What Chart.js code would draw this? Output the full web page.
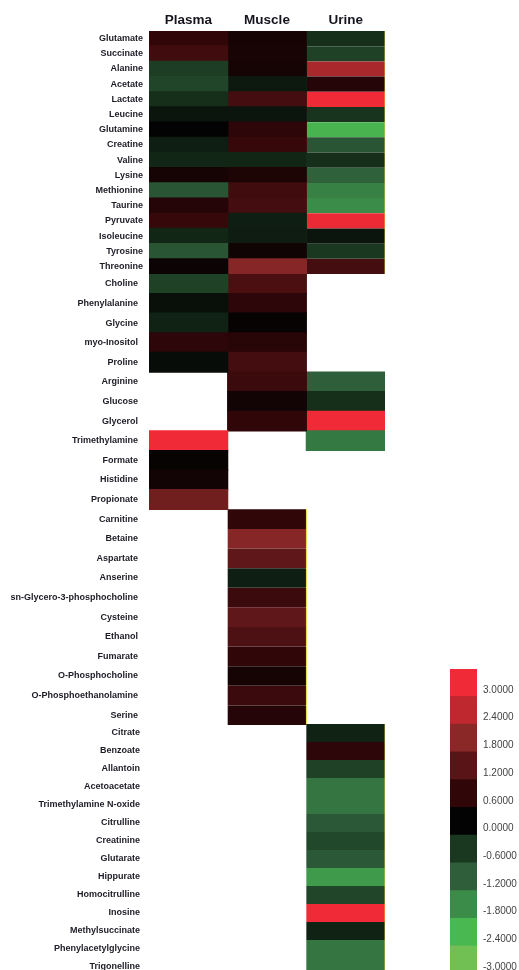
<!DOCTYPE html>
<html lang="en">
<head>
<meta charset="UTF-8">
<title>Metabolite heatmap</title>
<script src="https://cdn.jsdelivr.net/npm/chart.js@4.4.1/dist/chart.umd.min.js"></script>
<style>
    body { margin: 0; background: #fff; }
    #wrap { position: relative; width: 519px; height: 970px; overflow: hidden; }
    canvas { position: absolute; left: 0; }
</style>
</head>
<body>
<div id="wrap">
    <canvas id="block1" width="386" height="274" style="top:0"></canvas>
    <canvas id="block2" width="386" height="451" style="top:274px"></canvas>
    <canvas id="block3" width="386" height="252" style="top:724px"></canvas>
    <canvas id="colorScale" width="79" height="316" style="left:440px;top:660px"></canvas>
</div>
<script>
const columns = ['Plasma', 'Muscle', 'Urine'];

// block 1: measured in all three samples
const names1 = ['Glutamate', 'Succinate', 'Alanine', 'Acetate', 'Lactate', 'Leucine', 'Glutamine', 'Creatine',
    'Valine', 'Lysine', 'Methionine', 'Taurine', 'Pyruvate', 'Isoleucine', 'Tyrosine', 'Threonine'];
const plasma1 = [0.6, 0.85, -0.7, -0.8, -0.5, -0.2, 0, -0.3, -0.4, 0.25, -1.05, 0.45, 0.7, -0.4, -1.05, 0.12];
const muscle1 = [0.25, 0.3, 0.25, -0.25, 0.9, -0.2, 0.55, 0.7, -0.4, 0.35, 0.85, 0.9, -0.3, -0.28, 0.18, 1.75];
const urine1 = [-0.5, -0.75, 2.15, 0.45, 3.0, -0.55, -2.35, -1.05, -0.5, -1.25, -1.65, -1.8, 2.95, -0.2, -0.6, 0.9];

// block 2: plasma and/or muscle
const names2 = ['Choline', 'Phenylalanine', 'Glycine', 'myo-Inositol', 'Proline', 'Arginine', 'Glucose', 'Glycerol',
    'Trimethylamine', 'Formate', 'Histidine', 'Propionate', 'Carnitine', 'Betaine', 'Aspartate', 'Anserine',
    'sn-Glycero-3-phosphocholine', 'Cysteine', 'Ethanol', 'Fumarate', 'O-Phosphocholine', 'O-Phosphoethanolamine', 'Serine'];
const plasma2 = [-0.75, -0.15, -0.35, 0.55, -0.1, null, null, null, 3.0, 0.05, 0.2, 1.5,
    null, null, null, null, null, null, null, null, null, null, null];
const muscle2 = [1.0, 0.55, 0.05, 0.5, 0.9, 0.75, 0.2, 0.6, null, null, null, null,
    0.6, 1.75, 1.3, -0.3, 0.75, 1.3, 1.05, 0.6, 0.25, 0.75, 0.45];
const urine2 = [null, null, null, null, null, -1.2, -0.5, 3.0, -1.55, null, null, null,
    null, null, null, null, null, null, null, null, null, null, null];

// block 3: urine only
const names3 = ['Citrate', 'Benzoate', 'Allantoin', 'Acetoacetate', 'Trimethylamine N-oxide', 'Citrulline', 'Creatinine',
    'Glutarate', 'Hippurate', 'Homocitrulline', 'Inosine', 'Methylsuccinate', 'Phenylacetylglycine', 'Trigonelline'];
const urine3 = [-0.35, 0.55, -0.75, -1.5, -1.5, -1.1, -0.85, -1.1, -2.0, -0.8, 3.0, -0.35, -1.5, -1.5];

// colour key
const scaleValues = [3, 2.4, 1.8, 1.2, 0.6, 0, -0.6, -1.2, -1.8, -2.4, -3];
const scaleLabels = ['3.0000', '2.4000', '1.8000', '1.2000', '0.6000', '0.0000',
    '-0.6000', '-1.2000', '-1.8000', '-2.4000', '-3.0000'];

const stopColors = [
    [240, 42, 54], [190, 40, 46], [138, 40, 40], [88, 20, 22], [48, 6, 8], [3, 3, 3],
    [26, 56, 32], [46, 94, 58], [58, 140, 72], [74, 184, 80], [112, 192, 84]
];

function heatColor(v) {
    if (v == null) return 'rgba(0,0,0,0)';
    v = Math.max(-3, Math.min(3, v));
    let pos = (3 - v) / 0.6;
    let i = Math.min(Math.floor(pos), stopColors.length - 2);
    let t = pos - i;
    let a = stopColors[i], b = stopColors[i + 1];
    let c = a.map((x, k) => Math.round(x + (b[k] - x) * t));
    return 'rgb(' + c.join(',') + ')';
}

// kill the extra room chart.js keeps for half a tick label
function noLabelPadding(axis) {
    axis.paddingTop = 0;
    axis.paddingBottom = 0;
}

const labelFont = { family: 'Liberation Sans, Arial, sans-serif', size: 9, weight: 'bold' };

// edge: which column gets the thin yellow edge line, from which row on
function makeBlock(id, names, values, showHeader, labelPad, edge) {
    const datasets = columns.map((col, ci) => ({
        label: col,
        data: names.map((n, ri) => values[ci] && values[ci][ri] != null ? [ci, ci + 1] : null),
        backgroundColor: ctx => heatColor(values[ci] ? values[ci][ctx.dataIndex] : null),
        borderColor: '#e6d640',
        borderSkipped: false,
        borderWidth: ctx => {
            let r = edge && edge.col === ci && ctx.dataIndex >= edge.from ? 1 : 0;
            return { top: 0, bottom: 0, left: 0, right: r };
        },
        inflateAmount: 0.6,
        barPercentage: 1,
        categoryPercentage: 1,
        grouped: false
    }));
    return new Chart(document.getElementById(id), {
        type: 'bar',
        data: { labels: names, datasets: datasets },
        options: {
            indexAxis: 'y',
            responsive: false,
            animation: false,
            devicePixelRatio: 1,
            layout: { padding: { left: 0, top: 0, bottom: 0, right: 1 } },
            plugins: { legend: { display: false }, tooltip: { enabled: false } },
            scales: {
                x: {
                    type: 'linear', min: 0, max: 3, position: 'top', display: showHeader,
                    grid: { display: false, drawTicks: false }, border: { display: false },
                    afterBuildTicks: axis => { axis.ticks = columns.map((c, i) => ({ value: i + 0.5 })); },
                    afterFit: axis => { axis.height = showHeader ? 31 : 0; axis.paddingLeft = 0; axis.paddingRight = 0; },
                    ticks: {
                        callback: (v, i) => columns[i],
                        padding: 3, maxRotation: 0, autoSkip: false, color: '#151520',
                        font: { family: 'Liberation Sans, Arial, sans-serif', size: 13.5, weight: 'bold' }
                    }
                },
                y: {
                    grid: { display: false, drawTicks: false }, border: { display: false },
                    afterFit: axis => { axis.width = 149; noLabelPadding(axis); },
                    ticks: { padding: labelPad, autoSkip: false, color: '#1c1c26', font: labelFont }
                }
            }
        }
    });
}

makeBlock('block1', names1, [plasma1, muscle1, urine1], true, 6, { col: 2, from: 0 });
makeBlock('block2', names2, [plasma2, muscle2, urine2], false, 11, { col: 1, from: 12 });
makeBlock('block3', names3, [null, null, urine3], false, 9, { col: 2, from: 0 });

new Chart(document.getElementById('colorScale'), {
    type: 'bar',
    data: {
        labels: scaleLabels,
        datasets: [{
            data: scaleValues.map(() => [0, 1]),
            backgroundColor: ctx => heatColor(scaleValues[ctx.dataIndex]),
            borderWidth: 0,
            inflateAmount: 0.6,
            barPercentage: 1,
            categoryPercentage: 1
        }]
    },
    options: {
        indexAxis: 'y',
        responsive: false,
        animation: false,
        devicePixelRatio: 1,
        layout: { padding: { left: 10, top: 9, bottom: 2, right: 0 } },
        plugins: { legend: { display: false }, tooltip: { enabled: false } },
        scales: {
            x: { display: false, min: 0, max: 1 },
            y: {
                position: 'right',
                grid: { display: false, drawTicks: false }, border: { display: false },
                afterFit: axis => { axis.width = 42; noLabelPadding(axis); },
                ticks: {
                    padding: 6, labelOffset: 7, autoSkip: false, color: '#444',
                    font: { family: 'Liberation Sans, Arial, sans-serif', size: 10 }
                }
            }
        }
    }
});
</script>
</body>
</html>
